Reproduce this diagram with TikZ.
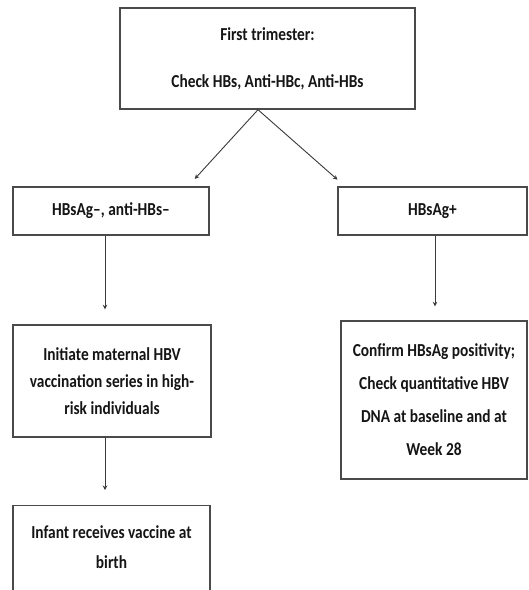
\documentclass[tikz,border=0pt]{standalone}
\usepackage{fontspec}
\setmainfont{Carlito}[FakeStretch=0.84]
\usetikzlibrary{arrows.meta}
\definecolor{boxline}{HTML}{4A4A4A}
\definecolor{arrline}{HTML}{3A3A3A}
\definecolor{txt}{HTML}{151515}
\begin{document}
\begin{tikzpicture}[x=1pt,y=-1pt,
  box/.style={draw=boxline, line width=1.4pt, fill=white, inner sep=0pt, align=center, text=txt, font=\bfseries\fontsize{18.3}{27}\selectfont},
  conn/.style={draw=arrline, line width=0.9pt, -{Stealth[length=4.5pt,width=4.5pt]}},
  ]
\useasboundingbox (0,0) rectangle (529,590);
\fill[white] (0,0) rectangle (529,590);
% boxes
\node[box, minimum width=295pt, minimum height=101pt, font=\bfseries\fontsize{18.3}{47}\selectfont] (top) at (267.5,58.5)
  {First trimester:\\Check HBs, Anti-HBc, Anti-HBs};
\node[box, minimum width=196pt, minimum height=48pt] (l1) at (111,211) {HBsAg--, anti-HBs--};
\node[box, minimum width=189pt, minimum height=48pt] (r1) at (432.5,211) {HBsAg+};
\node[box, minimum width=198pt, minimum height=112pt] (l2) at (112,381)
  {Initiate maternal HBV\\vaccination series in high-\\risk individuals};
\node[box, minimum width=186pt, minimum height=158pt, font=\bfseries\fontsize{18.3}{33}\selectfont] (r2) at (434,400)
  {Confirm HBsAg positivity;\\Check quantitative HBV\\DNA at baseline and at\\Week 28};
\node[box, minimum width=197pt, minimum height=90pt, anchor=north] (l3) at (111.5,505)
  {};
\node[text=txt, font=\bfseries\fontsize{18.3}{30}\selectfont, align=center, inner sep=0pt] (l3t) at (111.5,547)
  {Infant receives vaccine at\\birth};
% connectors
\draw[conn, shorten >=10pt] ([xshift=-9.5pt]top.south) -- ([xshift=77pt]l1.north);
\draw[conn, shorten >=10pt] ([xshift=-9.5pt]top.south) -- ([xshift=-87.5pt]r1.north);
\draw[conn, shorten >=15pt] ([xshift=-6pt]l1.south) -- ([xshift=-7pt]l2.north);
\draw[conn, shorten >=15pt] ([xshift=-7pt]l2.south) -- ([xshift=-6.5pt]l3.north);
\draw[conn, shorten >=14pt] ([xshift=2.5pt]r1.south) -- ([xshift=1pt]r2.north);
\end{tikzpicture}
\end{document}
